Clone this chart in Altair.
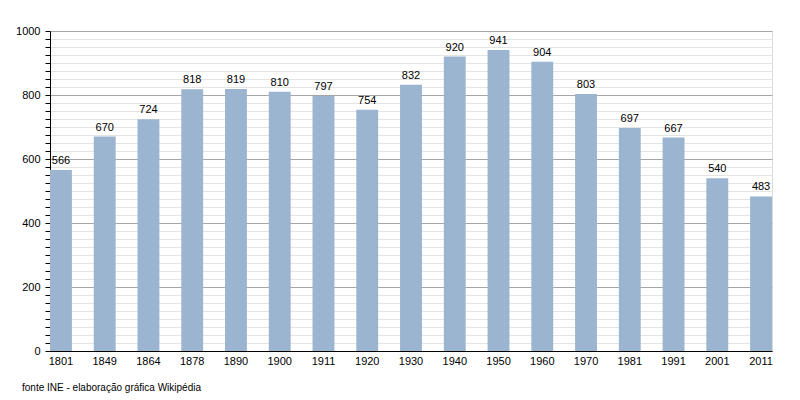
import altair as alt
import pandas as pd

years = ["1801", "1849", "1864", "1878", "1890", "1900", "1911", "1920", "1930",
         "1940", "1950", "1960", "1970", "1981", "1991", "2001", "2011"]
population = [566, 670, 724, 818, 819, 810, 797, 754, 832,
              920, 941, 904, 803, 697, 667, 540, 483]
y_ticks = list(range(0, 1001, 25))
footer = ["fonte INE - elaboração gráfica Wikipédia"]

df = pd.DataFrame({"year": years, "pop": population})

FONT = "Liberation Sans"

x = alt.X("year:N", sort=years,
          scale=alt.Scale(paddingInner=0.5, paddingOuter=0, align=0),
          axis=alt.Axis(title=None, labelAngle=0, ticks=False, domainColor="#000",
                        labelColor="#000", labelFont=FONT, labelFontSize=11,
                        labelPadding=4, grid=False))
y = alt.Y("pop:Q", scale=alt.Scale(domain=[0, 1000], nice=False),
          axis=alt.Axis(title=None, values=y_ticks, format="d",
                        labelExpr="datum.value % 200 === 0 ? datum.label : ''",
                        labelOverlap=False, labelColor="#000", labelFont=FONT,
                        labelFontSize=11, labelPadding=5, tickSize=5, tickColor="#000",
                        domainColor="#000",
                        grid=True,
                        gridColor={"condition": {"test": "datum.value % 200 === 0", "value": "#a6a6a6"},
                                   "value": "#e4e4e4"},
                        gridOpacity=1))

bars = alt.Chart(df).mark_bar(color="#9bb4cf").encode(x=x, y=y)
labels = alt.Chart(df).mark_text(baseline="bottom", dy=-4, font=FONT, fontSize=11,
                                 color="#000").encode(x=x, y=y, text="pop:Q")
foot = alt.Chart(pd.DataFrame({"t": footer})).mark_text(
    align="left", baseline="middle", font=FONT, fontSize=10, color="#000"
).encode(x=alt.value(-28), y=alt.value(357), text="t:N")

chart = alt.layer(bars, labels, foot).properties(
    width=722, height=320,
    autosize=alt.AutoSizeParams(type="none"),
    padding={"left": 42, "top": 23, "right": 20, "bottom": 50},
).configure_view(stroke=None).configure(background="white")

chart.save("out.html", embed_options={"renderer": "svg", "actions": False})
